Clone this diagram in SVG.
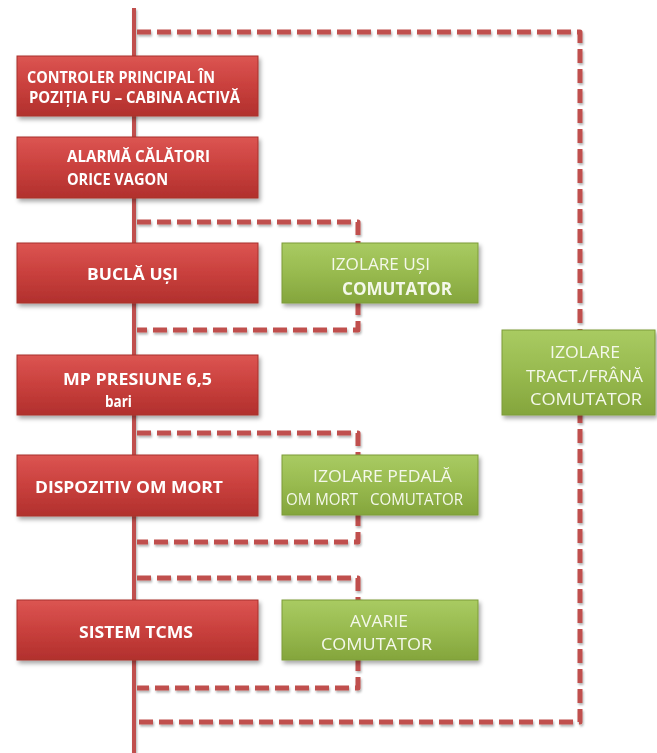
<svg xmlns="http://www.w3.org/2000/svg" width="657" height="753" viewBox="0 0 657 753">
  <defs>
    <linearGradient id="redFill" x1="0" y1="0" x2="0" y2="1">
      <stop offset="0" stop-color="#dc5552"/>
      <stop offset="0.5" stop-color="#c9403d"/>
      <stop offset="1" stop-color="#b1302d"/>
    </linearGradient>
    <linearGradient id="greenFill" x1="0" y1="0" x2="0" y2="1">
      <stop offset="0" stop-color="#a9cb62"/>
      <stop offset="0.5" stop-color="#98ba4f"/>
      <stop offset="1" stop-color="#84a53c"/>
    </linearGradient>
    <filter id="shadow" x="-10%" y="-20%" width="125%" height="150%">
      <feDropShadow dx="2" dy="3" stdDeviation="2" flood-color="#000" flood-opacity="0.35"/>
    </filter>
    <filter id="lineShadow" x="-5%" y="-5%" width="110%" height="110%">
      <feDropShadow dx="1" dy="2" stdDeviation="1" flood-color="#000" flood-opacity="0.3"/>
    </filter>
  </defs>
  <style>
    .trunk { stroke: #c0504d; stroke-width: 4; fill: none; }
    .loop { stroke: #c0504d; stroke-width: 5; fill: none; stroke-dasharray: 14 6; stroke-linejoin: round; }
    .red { fill: url(#redFill); stroke: #a8302d; stroke-width: 1; }
    .green { fill: url(#greenFill); stroke: #7c9c38; stroke-width: 1; }
    .rt { font-family: "Open Sans", "Liberation Sans", sans-serif; font-weight: bold; font-size: 16px; fill: #ffffff; }
    .gt { font-family: "Open Sans", "Liberation Sans", sans-serif; font-size: 17px; fill: #f4f8ea; }
    .gb { font-weight: bold; }
  </style>
  <rect width="657" height="753" fill="#ffffff"/>

  <!-- connectors: main trunk and dashed bypass loops -->
  <g id="connectors" filter="url(#lineShadow)">
    <line class="trunk" x1="134" y1="8" x2="134" y2="753"/>
    <path class="loop" d="M137,32 H580 V722 H137"/>
    <path class="loop" d="M137,222 H358 V330 H137"/>
    <path class="loop" d="M137,433 H358 V542 H137"/>
    <path class="loop" d="M137,578 H358 V688 H137"/>
  </g>

  <g id="controler" filter="url(#shadow)">
    <rect class="red" x="17" y="56" width="241" height="60"/>
    <text class="rt" x="27" y="83" textLength="188" lengthAdjust="spacingAndGlyphs">CONTROLER PRINCIPAL ÎN</text>
    <text class="rt" x="29" y="103" textLength="211" lengthAdjust="spacingAndGlyphs">POZIȚIA FU – CABINA ACTIVĂ</text>
  </g>

  <g id="alarma" filter="url(#shadow)">
    <rect class="red" x="17" y="137" width="241" height="61"/>
    <text class="rt" x="67" y="162" textLength="143" lengthAdjust="spacingAndGlyphs">ALARMĂ CĂLĂTORI</text>
    <text class="rt" x="67" y="185" textLength="101" lengthAdjust="spacingAndGlyphs">ORICE VAGON</text>
  </g>

  <g id="bucla-usi" filter="url(#shadow)">
    <rect class="red" x="17" y="243" width="241" height="60"/>
    <text class="rt" x="87" y="280" textLength="91" lengthAdjust="spacingAndGlyphs">BUCLĂ UȘI</text>
  </g>

  <g id="izolare-usi" filter="url(#shadow)">
    <rect class="green" x="282" y="243" width="196" height="60"/>
    <text class="gt" x="331" y="270" textLength="99" lengthAdjust="spacingAndGlyphs">IZOLARE UȘI</text>
    <text class="gt gb" x="342" y="295" textLength="110" lengthAdjust="spacingAndGlyphs">COMUTATOR</text>
  </g>

  <g id="mp-presiune" filter="url(#shadow)">
    <rect class="red" x="17" y="355" width="241" height="60"/>
    <text class="rt" x="63" y="385" textLength="149" lengthAdjust="spacingAndGlyphs">MP PRESIUNE 6,5</text>
    <text class="rt" x="105" y="407" textLength="27" lengthAdjust="spacingAndGlyphs">bari</text>
  </g>

  <g id="om-mort" filter="url(#shadow)">
    <rect class="red" x="17" y="455" width="241" height="61"/>
    <text class="rt" x="35" y="493" textLength="188" lengthAdjust="spacingAndGlyphs">DISPOZITIV OM MORT</text>
  </g>

  <g id="izolare-pedala" filter="url(#shadow)">
    <rect class="green" x="282" y="455" width="196" height="60"/>
    <text class="gt" x="313" y="482" textLength="139" lengthAdjust="spacingAndGlyphs">IZOLARE PEDALĂ</text>
    <text class="gt" x="286" y="505" font-size="15" textLength="177" lengthAdjust="spacingAndGlyphs" xml:space="preserve">OM MORT   COMUTATOR</text>
  </g>

  <g id="tcms" filter="url(#shadow)">
    <rect class="red" x="17" y="600" width="241" height="60"/>
    <text class="rt" x="79" y="638" textLength="114" lengthAdjust="spacingAndGlyphs">SISTEM TCMS</text>
  </g>

  <g id="avarie" filter="url(#shadow)">
    <rect class="green" x="282" y="600" width="196" height="60"/>
    <text class="gt" x="350" y="627" textLength="58" lengthAdjust="spacingAndGlyphs">AVARIE</text>
    <text class="gt" x="321" y="650" textLength="111" lengthAdjust="spacingAndGlyphs">COMUTATOR</text>
  </g>

  <g id="izolare-tract" filter="url(#shadow)">
    <rect class="green" x="502" y="330" width="153" height="85"/>
    <text class="gt" x="550" y="358" textLength="70" lengthAdjust="spacingAndGlyphs">IZOLARE</text>
    <text class="gt" x="526" y="382" textLength="117" lengthAdjust="spacingAndGlyphs">TRACT./FRÂNĂ</text>
    <text class="gt" x="530" y="405" textLength="112" lengthAdjust="spacingAndGlyphs">COMUTATOR</text>
  </g>
</svg>
